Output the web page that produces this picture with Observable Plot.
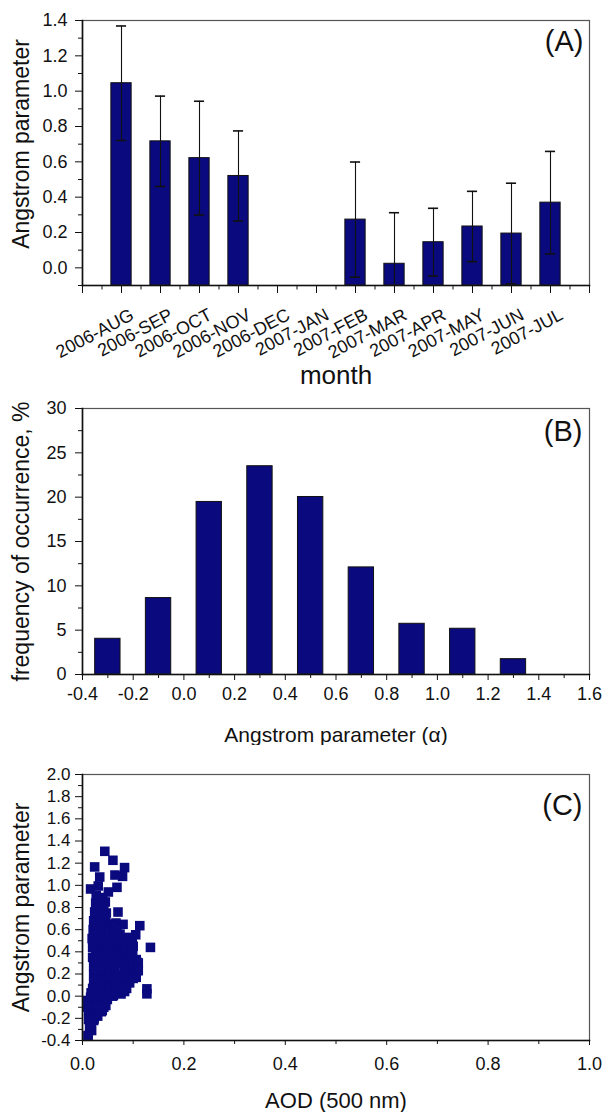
<!DOCTYPE html>
<html><head><meta charset="utf-8">
<script src="https://cdn.jsdelivr.net/npm/d3@7"></script>
<script src="https://cdn.jsdelivr.net/npm/@observablehq/plot@0.6"></script>
<style>
body{margin:0;background:#fff}
#wrap{position:relative;width:603px;height:1112px;overflow:hidden}
.p{position:absolute;left:0}
</style>
</head><body><div id="wrap"></div>
<script>
// ---------- data ----------
const months = ["2006-AUG","2006-SEP","2006-OCT","2006-NOV","2006-DEC","2007-JAN","2007-FEB","2007-MAR","2007-APR","2007-MAY","2007-JUN","2007-JUL"];
const monthMean = [1.045, 0.716, 0.621, 0.520, null, null, 0.273, 0.023, 0.145, 0.234, 0.194, 0.369];
const monthSd   = [0.324, 0.256, 0.322, 0.255, null, null, 0.326, 0.289, 0.192, 0.199, 0.285, 0.290];

const alphaBins = [-0.3, -0.1, 0.1, 0.3, 0.5, 0.7, 0.9, 1.1, 1.3];
const alphaFreq = [4.03, 8.62, 19.46, 23.49, 20.02, 12.08, 5.72, 5.16, 1.73];

const aod = [
 0.044,0.060,0.083,0.079,0.064,0.024,0.034,0.016,0.031,0.068,0.051,0.070,0.080,0.113,0.134,0.105,0.098,0.127,0.127,0.107,0.108,0.083,0.061,0.046,0.039,0.023,0.016,0.011,0.009,0.010,
 0.027,0.040,
 0.026,0.038,0.045,
 0.024,0.036,0.047,
 0.022,0.034,0.046,0.055,0.066,
 0.021,0.033,0.058,0.068,
 0.019,0.031,0.043,0.055,0.067,0.079,0.090,
 0.020,0.032,0.044,0.056,0.068,0.080,0.093,0.100,
 0.020,0.032,0.045,0.057,0.069,0.081,0.093,0.106,
 0.022,0.034,0.046,0.058,0.082,0.094,0.108,
 0.022,0.034,0.046,0.058,0.070,0.083,0.096,0.106,
 0.022,0.034,0.046,0.058,0.070,0.082,0.093,
 0.017,0.029,0.041,0.053,0.066,0.076,
 0.012,0.024,0.036,0.049,
 0.012,0.024,0.037,
 0.012,0.022,
 0.014,0.018,
 0.011,
 0.033,
 0.031,0.042,
 0.029,0.041,
 0.028,0.040,0.052,0.061,
 0.026,0.038,0.050,0.062,0.074,
 0.026,0.038,0.050,0.062,0.074,0.086,0.097,
 0.026,0.038,0.050,0.062,0.074,0.087,0.099,
 0.026,0.038,0.051,0.063,0.075,0.088,0.100,0.110,
 0.028,0.040,0.052,0.064,0.088,0.100,0.110,
 0.028,0.040,0.052,0.064,0.076,0.089,0.100,
 0.020,0.028,0.040,0.052,0.064,0.076,0.087,
 0.016,0.023,0.035,0.047,0.059,
 0.018,0.030,0.042,
 0.018,0.030,
 0.017
];
const alphaPts = [
 1.307,1.226,1.160,1.081,1.093,1.166,1.075,0.967,0.994,0.982,0.940,0.759,0.648,0.636,0.440,0.554,0.473,0.066,0.021,0.307,0.232,0.042,0.006,-0.084,-0.130,-0.205,-0.265,-0.355,-0.099,-0.039,
 0.91,0.89,
 0.84,0.82,0.85,
 0.76,0.74,0.75,
 0.68,0.66,0.67,0.65,0.66,
 0.60,0.58,0.59,0.57,
 0.52,0.50,0.51,0.49,0.52,0.50,0.53,
 0.44,0.42,0.43,0.41,0.44,0.42,0.43,0.45,
 0.35,0.34,0.36,0.33,0.35,0.34,0.36,0.33,
 0.27,0.26,0.28,0.25,0.27,0.26,0.28,
 0.19,0.18,0.20,0.17,0.19,0.18,0.20,0.17,
 0.11,0.10,0.12,0.09,0.11,0.10,0.12,
 0.03,0.02,0.04,0.03,0.05,0.02,
 -0.05,-0.04,-0.06,-0.03,
 -0.13,-0.12,-0.14,
 -0.21,-0.22,
 -0.29,-0.31,
 -0.36,
 0.87,
 0.79,0.80,
 0.71,0.72,
 0.63,0.62,0.64,0.63,
 0.55,0.56,0.54,0.55,0.56,
 0.47,0.48,0.46,0.47,0.48,0.46,0.47,
 0.39,0.38,0.40,0.39,0.38,0.40,0.39,
 0.31,0.30,0.32,0.31,0.30,0.31,0.32,0.30,
 0.23,0.22,0.24,0.23,0.22,0.24,0.23,
 0.15,0.14,0.16,0.15,0.14,0.15,0.16,
 0.07,0.06,0.08,0.07,0.06,0.08,0.07,
 -0.01,0.00,-0.02,-0.01,0.00,
 -0.09,-0.08,-0.10,
 -0.17,-0.18,
 -0.25
];

// tick values
const yTicksA = [0, 0.2, 0.4, 0.6, 0.8, 1.0, 1.2, 1.4];
const yMinorA = [-0.1, 0.1, 0.3, 0.5, 0.7, 0.9, 1.1, 1.3];
const xTicksB = [-0.4,-0.2,0,0.2,0.4,0.6,0.8,1.0,1.2,1.4,1.6];
const xMinorB = [-0.3,-0.1,0.1,0.3,0.5,0.7,0.9,1.1,1.3,1.5];
const yTicksB = [0,5,10,15,20,25,30];
const yMinorB = [2.5,7.5,12.5,17.5,22.5,27.5];
const xTicksC = [0,0.2,0.4,0.6,0.8,1.0];
const xMinorC = [0.1,0.3,0.5,0.7,0.9];
const yTicksC = [-0.4,-0.2,0,0.2,0.4,0.6,0.8,1.0,1.2,1.4,1.6,1.8,2.0];
const yMinorC = [-0.3,-0.1,0.1,0.3,0.5,0.7,0.9,1.1,1.3,1.5,1.7,1.9];

// ---------- styling ----------
const NAVY = "#0a0a7e";
const INK = "#111";
const FONT = "'Liberation Sans', Arial, Helvetica, sans-serif";
const fmt1 = d => d.toFixed(1);
const wrap = document.getElementById("wrap");
function place(svg, top) {
  const d = document.createElement("div");
  d.className = "p"; d.style.top = top + "px";
  d.appendChild(svg); wrap.appendChild(d);
}
function frames() {
  return [
    Plot.frame({stroke: "#555", strokeWidth: 1.2}),
    Plot.frame({anchor: "left", stroke: INK, strokeWidth: 1.6}),
    Plot.frame({anchor: "bottom", stroke: INK, strokeWidth: 1.6})
  ];
}

// ---------- Panel A ----------
const monthIdx = months.map((m, i) => ({i: i + 1, m}));
const barsA = months.map((m, i) => ({i: i + 1, m, mean: monthMean[i], sd: monthSd[i]})).filter(d => d.mean != null);
const xMajorA = d3.range(0, 14);
const xMinorA = d3.range(0, 13).map(v => v + 0.5);

const plotA = Plot.plot({
  width: 603, height: 390,
  marginLeft: 82, marginRight: 14, marginTop: 20, marginBottom: 105,
  style: {fontFamily: FONT, fontSize: "18px", background: "white", color: INK},
  x: {domain: [0, 13], axis: null},
  y: {domain: [-0.1, 1.4], axis: null},
  marks: [
    Plot.rectY(barsA, {x1: d => d.i - 0.26, x2: d => d.i + 0.26, y1: -0.1, y2: "mean", fill: NAVY, stroke: INK, strokeWidth: 1}),
    Plot.ruleX(barsA, {x: "i", y1: d => d.mean - d.sd, y2: d => d.mean + d.sd, stroke: INK, strokeWidth: 1.1, clip: true}),
    Plot.ruleY(barsA, {y: d => d.mean + d.sd, x1: d => d.i - 0.13, x2: d => d.i + 0.13, stroke: INK, strokeWidth: 1.6, clip: true}),
    Plot.ruleY(barsA, {y: d => d.mean - d.sd, x1: d => d.i - 0.13, x2: d => d.i + 0.13, stroke: INK, strokeWidth: 1.6, clip: true}),
    ...frames(),
    Plot.axisY({ticks: yTicksA, tickSize: 7, tickPadding: 8, tickFormat: fmt1, fontSize: 18, label: null}),
    Plot.axisY({ticks: yMinorA, tickSize: 4, tickFormat: () => "", label: null}),
    Plot.axisX({ticks: xMajorA, tickSize: 8, tickFormat: () => "", label: null}),
    Plot.axisX({ticks: xMinorA, tickSize: 4.5, tickFormat: () => "", label: null}),
    Plot.text(monthIdx, {x: "i", text: "m", frameAnchor: "bottom", rotate: -28, textAnchor: "end", lineAnchor: "middle", dx: 11, dy: 28, fontSize: 18, fill: INK}),
    Plot.text(["month"], {text: d => d, frameAnchor: "bottom", dy: 90, lineAnchor: "middle", fontSize: 26, fill: INK}),
    Plot.text(["Angstrom parameter"], {text: d => d, frameAnchor: "left", rotate: -90, dx: -61, dy: -9, textAnchor: "middle", lineAnchor: "middle", fontSize: 23, fill: INK}),
    Plot.text(["(A)"], {text: d => d, frameAnchor: "top-right", textAnchor: "end", lineAnchor: "top", dx: -6, dy: 10, fontSize: 29, fill: INK})
  ]
});
place(plotA, 0);

// ---------- Panel B ----------
const histB = alphaBins.map((b, i) => ({b, f: alphaFreq[i]}));
const plotB = Plot.plot({
  width: 603, height: 355,
  marginLeft: 82, marginRight: 14, marginTop: 18, marginBottom: 71,
  style: {fontFamily: FONT, fontSize: "18px", background: "white", color: INK},
  x: {domain: [-0.4, 1.6], axis: null},
  y: {domain: [0, 30], axis: null},
  marks: [
    Plot.rectY(histB, {x1: d => d.b - 0.05, x2: d => d.b + 0.05, y1: 0, y2: "f", fill: NAVY, stroke: INK, strokeWidth: 1}),
    ...frames(),
    Plot.axisY({ticks: yTicksB, tickSize: 7, tickPadding: 9, tickFormat: d => String(d), fontSize: 18, label: null}),
    Plot.axisY({ticks: yMinorB, tickSize: 4, tickFormat: () => "", label: null}),
    Plot.axisX({ticks: xTicksB, tickSize: 6, tickPadding: 7, tickFormat: fmt1, fontSize: 18, label: null}),
    Plot.axisX({ticks: xMinorB, tickSize: 4, tickFormat: () => "", label: null}),
    Plot.text(["Angstrom parameter (\u03b1)"], {text: d => d, frameAnchor: "bottom", dy: 61, lineAnchor: "middle", fontSize: 21, fill: INK}),
    Plot.text(["frequency of occurrence, %"], {text: d => d, frameAnchor: "left", rotate: -90, dx: -61, dy: 0, textAnchor: "middle", lineAnchor: "middle", fontSize: 23, fill: INK}),
    Plot.text(["(B)"], {text: d => d, frameAnchor: "top-right", textAnchor: "end", lineAnchor: "top", dx: -7, dy: 12, fontSize: 29, fill: INK})
  ]
});
place(plotB, 390);

// ---------- Panel C ----------
const ptsC = aod.map((a, i) => ({a, y: alphaPts[i]}));
const plotC = Plot.plot({
  width: 603, height: 367,
  marginLeft: 82, marginRight: 14, marginTop: 29, marginBottom: 72,
  style: {fontFamily: FONT, fontSize: "18px", background: "white", color: INK},
  x: {domain: [0, 1], axis: null},
  y: {domain: [-0.4, 2.0], axis: null},
  marks: [
    Plot.dot(ptsC, {x: "a", y: "y", symbol: "square", r: 5.4, fill: NAVY, stroke: "none", clip: true}),
    ...frames(),
    Plot.axisY({ticks: yTicksC, tickSize: 7, tickPadding: 5, tickFormat: fmt1, fontSize: 17, label: null}),
    Plot.axisY({ticks: yMinorC, tickSize: 4, tickFormat: () => "", label: null}),
    Plot.axisX({ticks: xTicksC, tickSize: 5, tickPadding: 12, tickFormat: fmt1, fontSize: 18, label: null}),
    Plot.axisX({ticks: xMinorC, tickSize: 4, tickFormat: () => "", label: null}),
    Plot.text(["AOD (500 nm)"], {text: d => d, frameAnchor: "bottom", dy: 60, lineAnchor: "middle", fontSize: 22, fill: INK}),
    Plot.text(["Angstrom parameter"], {text: d => d, frameAnchor: "left", rotate: -90, dx: -61, dy: 0, textAnchor: "middle", lineAnchor: "middle", fontSize: 23, fill: INK}),
    Plot.text(["(C)"], {text: d => d, frameAnchor: "top-right", textAnchor: "end", lineAnchor: "top", dx: -7, dy: 20, fontSize: 29, fill: INK})
  ]
});
place(plotC, 745);
</script>
</body></html>
